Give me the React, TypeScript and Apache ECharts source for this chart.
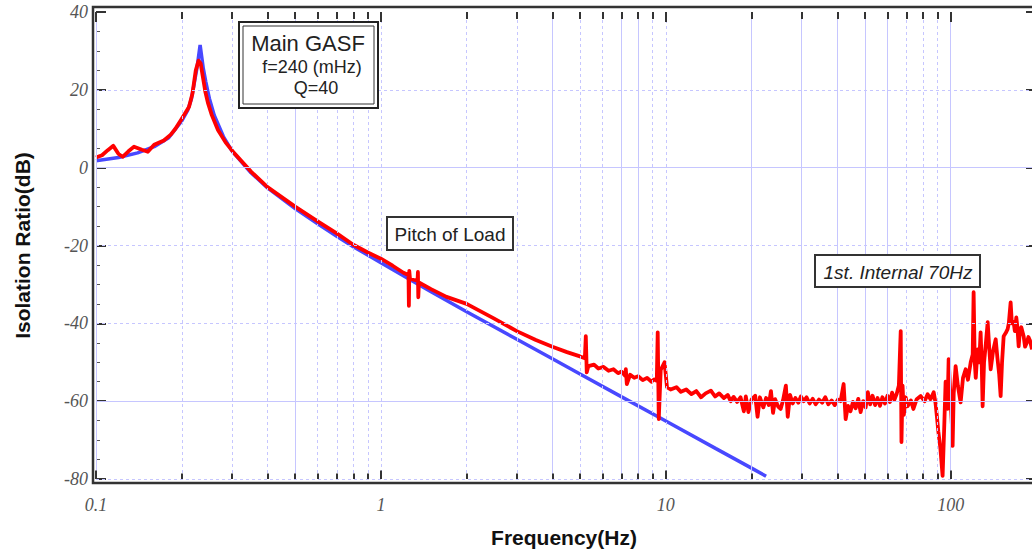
import React, { useEffect, useRef } from "react";
import * as echarts from "echarts";

// Theoretical transfer function (blue)
const blueFreq = [0.1, 0.12, 0.14, 0.16, 0.18, 0.2, 0.21, 0.216, 0.221, 0.226, 0.229, 0.232, 0.235, 0.238, 0.243, 0.25, 0.26, 0.28, 0.3, 0.35, 0.4, 0.5, 0.6, 0.7, 0.8, 1, 1.5, 2, 3, 4, 5, 7, 10, 15, 20, 22.5];
const blueDb = [1.8, 2.6, 3.8, 5.4, 7.7, 12.0, 14.8, 17.5, 21.5, 25.5, 28.5, 31.5, 28.5, 25.5, 22.0, 17.8, 13.5, 8.0, 4.3, -1.3, -5.2, -10.5, -14.4, -17.6, -20.3, -24.4, -31.9, -37.0, -44.1, -49.1, -53.0, -58.9, -65.1, -72.2, -77.2, -79.3];

// Measured (red) [Hz, dB]
const redLow: [number, number][] = [
  [0.1, 2.6], [0.105, 3.2], [0.11, 4.5], [0.115, 5.6], [0.12, 3.5], [0.124, 2.8], [0.13, 4.2], [0.136, 5.4], [0.145, 4.6], [0.152, 4.1], [0.16, 5.9], [0.173, 7.0], [0.183, 8.5], [0.19, 10.0], [0.199, 12.3], [0.212, 15.6], [0.218, 19.0], [0.224, 25.0], [0.229, 27.5], [0.233, 26.8], [0.237, 23.5], [0.242, 19.5], [0.247, 16.7], [0.255, 13.5], [0.268, 9.7], [0.285, 6.5], [0.305, 3.8], [0.35, -1.0], [0.4, -5.0], [0.5, -10.0], [0.6, -13.8], [0.7, -16.9], [0.8, -19.8], [0.9, -21.8], [1.0, -23.4],
];
const redMid: [number, number][] = [
  [1.1, -25.2], [1.2, -27.0], [1.25, -27.6], [1.254, -35.5], [1.258, -26.5], [1.265, -28.5], [1.3, -28.8], [1.345, -29.0], [1.349, -26.8], [1.353, -33.3], [1.36, -29.5], [1.5, -31.2], [1.7, -33.2], [2.0, -35.0], [2.5, -38.8], [3.0, -42.0], [3.5, -44.3], [4.0, -46.0], [4.5, -47.4], [5.0, -48.5], [5.2, -49.0], [5.24, -43.3], [5.28, -52.6], [5.35, -51.0], [5.6, -50.6], [5.8, -51.6], [6.05, -51.2], [6.3, -52.2], [6.55, -51.8], [6.8, -52.8], [7.0, -52.4], [7.2, -53.5], [7.24, -51.8], [7.3, -55.6], [7.5, -53.2], [7.75, -54.0], [8.0, -53.6], [8.3, -54.6], [8.6, -54.0], [8.9, -55.0], [9.1, -54.4], [9.3, -54.8], [9.37, -42.3], [9.45, -64.6], [9.6, -52.0], [9.9, -50.0], [10.1, -56.4],
];
const redHigh: [number, number][] = [
  [10.4, -57.0], [10.9, -56.4], [11.3, -57.6], [11.8, -57.0], [12.3, -58.2], [12.8, -57.4], [13.3, -59.0], [13.8, -58.0], [14.4, -57.3], [14.9, -58.8], [15.4, -58.0], [16.0, -59.2], [16.5, -58.4], [16.9, -60.0], [17.3, -58.9], [17.8, -60.2], [18.3, -59.0], [18.8, -62.6], [19.1, -58.8], [19.5, -62.8], [20.0, -59.6], [20.6, -58.6], [21.0, -64.0], [21.4, -59.0], [22.0, -61.6], [22.5, -59.2], [23.0, -61.0], [23.4, -57.4], [23.8, -63.0], [24.2, -59.5], [24.8, -61.4], [25.3, -62.0], [25.8, -59.8], [26.4, -56.0], [26.8, -64.0], [27.3, -58.4], [27.9, -60.6], [28.5, -59.2], [29.2, -60.4], [29.8, -58.8], [30.5, -60.0], [31.2, -59.0], [32, -60.6], [32.8, -59.4], [33.6, -60.8], [34.5, -59.6], [35.4, -60.4], [36.3, -59.0], [37.2, -60.8], [38.2, -59.8], [39.2, -61.0], [40.2, -59.6], [41.1, -60.0], [42.1, -55.6], [42.8, -64.6], [43.6, -61.2], [44.5, -62.6], [45.4, -60.2], [46.4, -61.8], [47.4, -59.4], [48.3, -62.8], [49.3, -60.0], [50.3, -61.6], [51.2, -57.7], [52.2, -60.8], [53.2, -58.6], [54.3, -61.0], [55.4, -59.2], [56.5, -61.2], [57.6, -59.0], [58.8, -60.6], [60, -58.6], [61.2, -60.2], [62.3, -57.8], [63.5, -59.6], [64.6, -58.2], [65.8, -56.0], [66.5, -46.0], [66.8, -42.0], [67.2, -70.5], [67.8, -56.0], [68.5, -63.5], [69.5, -59.0], [70.6, -61.3], [72.5, -59.8], [74, -62.0], [76, -59.5], [78.5, -58.7], [81, -60.0], [83, -58.2], [85, -59.5], [87.2, -57.7], [88.5, -60.5], [89.5, -64], [90.5, -67.7], [92, -72], [93.7, -79.2], [95, -66], [96, -55.0], [97.5, -62], [98.4, -49.2], [100, -60.0], [101, -66], [101.6, -71.5], [102.5, -58], [104.1, -51.0], [106, -56.0], [108.4, -60.3], [110.5, -54], [112.9, -51.8], [115, -54.5], [117.6, -50.0], [119.5, -48], [120.4, -32.0], [121.5, -50], [122.5, -54], [124.3, -46.7], [126, -50], [127.4, -42.3], [128.5, -50], [129.5, -61.3], [131, -50], [133, -45], [134.9, -39.7], [136.5, -46], [138.2, -51.8], [141, -47], [143.9, -44.1], [146, -49.0], [148, -53], [149.8, -58.7], [151.5, -50], [153.5, -43.3], [156, -42.5], [158.5, -41.5], [160, -40], [162.4, -34.6], [164, -40], [166.4, -39.7], [168, -42], [170, -38.5], [171.5, -41], [173.3, -45.9], [175, -42], [177, -41.0], [180.4, -43.3], [182.5, -46], [185, -45.0], [187.5, -43.5], [190, -44.5], [193, -46.7],
];

// Axis values
const xMin = 0.1;
const xMax = 193;
const yMin = -80;
const yMax = 40;
const yStep = 20;
const xTickFreqs = [0.1, 0.2, 0.3, 0.4, 0.5, 0.6, 0.7, 0.8, 0.9, 1, 2, 3, 4, 5, 6, 7, 8, 9, 10, 20, 30, 40, 50, 60, 70, 80, 90, 100];
const xDecades = [0.1, 1, 10, 100];
const xGridSolid = [0.1, 0.5, 4, 7, 8, 20, 30, 40, 50, 60, 100];
const xGridDashed = [0.2, 0.3, 0.4, 0.6, 0.7, 0.8, 0.9, 1, 2, 3, 5, 6, 9, 10, 70, 80, 90];
const yGridSolid = [0, -60];
const yGridDashed = [20, -20, -40, -80];

const gridColor = "#c6c6ff";
const labelFont = { fontFamily: "Liberation Serif", fontStyle: "italic" as const, fontSize: 18, color: "#555" };
const nameFont = { fontFamily: "Liberation Sans", fontWeight: "bold" as const, fontSize: 21, color: "#111" };

export default function App() {
  const ref = useRef<HTMLDivElement>(null);
  useEffect(() => {
    const chart = echarts.init(ref.current!, null, { renderer: "svg" });
    const blueData = blueFreq.map((f, i) => [f, blueDb[i]]);
    const redData = [...redLow, ...redMid, ...redHigh];
    const tickLine = (v: number, y0: number, y1: number) => [{ coord: [v, y0] }, { coord: [v, y1] }];
    const isDecade = (v: number) => xDecades.indexOf(v) >= 0;
    const option: any = {
      animation: false,
      grid: { left: 96, right: 0, top: 12, bottom: 73 },
      xAxis: [
        {
          type: "log",
          logBase: 10,
          min: xMin,
          max: xMax,
          axisLine: { show: false },
          axisTick: { show: false },
          splitLine: { show: false },
          minorTick: { show: false },
          axisLabel: {
            ...labelFont,
            margin: 17,
            showMaxLabel: false,
            formatter: (v: number) => (v < 1 ? v.toFixed(1) : String(Math.round(v))),
          },
          name: "Frequency(Hz)",
          nameLocation: "middle",
          nameGap: 48,
          nameTextStyle: nameFont,
        },
      ],
      yAxis: [
        {
          type: "value",
          min: yMin,
          max: yMax,
          interval: yStep,
          axisLine: { show: false },
          axisTick: { show: true, inside: true, length: 10, lineStyle: { color: "#333", width: 2 } },
          minorTick: { show: true, splitNumber: 4, length: 4, lineStyle: { color: "#555", width: 1 } },
          splitLine: { show: false },
          axisLabel: { ...labelFont, margin: 8 },
          name: "Isolation Ratio(dB)",
          nameLocation: "middle",
          nameGap: 63,
          nameTextStyle: nameFont,
        },
        {
          type: "value",
          position: "right",
          min: yMin,
          max: yMax,
          interval: yStep,
          axisLine: { show: false },
          axisTick: { show: true, inside: true, length: 6, lineStyle: { color: "#333", width: 2 } },
          axisLabel: { show: false },
          splitLine: { show: false },
        },
      ],
      series: [
        {
          type: "line",
          name: "grid",
          z: 1,
          data: [],
          silent: true,
          markLine: {
            silent: true,
            symbol: ["none", "none"],
            label: { show: false },
            emphasis: { disabled: true },
            animation: false,
            data: [
              ...xGridSolid.map((v) => ({ xAxis: v, lineStyle: { color: gridColor, type: "solid", width: 1 } })),
              ...xGridDashed.map((v) => ({ xAxis: v, lineStyle: { color: gridColor, type: [3, 3], width: 1 } })),
              ...yGridSolid.map((v) => ({ yAxis: v, lineStyle: { color: gridColor, type: "solid", width: 1 } })),
              ...yGridDashed.map((v) => ({ yAxis: v, lineStyle: { color: gridColor, type: [3, 3], width: 1 } })),
            ],
          },
        },
        {
          type: "line",
          name: "Model",
          z: 3,
          data: blueData,
          showSymbol: false,
          lineStyle: { color: "#4848ff", width: 3.5 },
          silent: true,
        },
        {
          type: "line",
          name: "Measured",
          z: 4,
          data: redData,
          showSymbol: false,
          lineStyle: { color: "#ff0000", width: 3.8, join: "round" },
          silent: true,
        },
        {
          type: "line",
          name: "ticks",
          z: 6,
          data: [],
          silent: true,
          markLine: {
            silent: true,
            symbol: ["none", "none"],
            label: { show: false },
            emphasis: { disabled: true },
            animation: false,
            lineStyle: { color: "#333", type: "solid", width: 2 },
            data: [
              ...xTickFreqs.map((v) => tickLine(v, yMin, yMin + (isDecade(v) ? 2.2 : 1.4))),
              ...xTickFreqs.map((v) => tickLine(v, yMax, yMax - (isDecade(v) ? 2.6 : 1.8))),
            ],
          },
        },
      ],
      graphic: [
        {
          type: "rect",
          z: 10,
          shape: { x: 93, y: 7, width: 950, height: 476 },
          style: { fill: "none", stroke: "#333", lineWidth: 2.5 },
          silent: true,
        },
        { type: "rect", z: 20, shape: { x: 239, y: 22, width: 139, height: 86 }, style: { fill: "#fff", stroke: "#222", lineWidth: 2 } },
        { type: "rect", z: 21, shape: { x: 243, y: 26, width: 131, height: 78 }, style: { fill: "#fff", stroke: "#333", lineWidth: 1 } },
        { type: "text", z: 22, style: { text: "Main GASF", x: 308, y: 43, align: "center", verticalAlign: "middle", font: "22px 'Liberation Sans'", fill: "#222" } },
        { type: "text", z: 22, style: { text: "f=240 (mHz)", x: 312, y: 67, align: "center", verticalAlign: "middle", font: "18px 'Liberation Sans'", fill: "#222" } },
        { type: "text", z: 22, style: { text: "Q=40", x: 316, y: 88, align: "center", verticalAlign: "middle", font: "18px 'Liberation Sans'", fill: "#222" } },
        { type: "rect", z: 20, shape: { x: 387, y: 217, width: 126, height: 33 }, style: { fill: "#fff", stroke: "#333", lineWidth: 2 } },
        { type: "text", z: 22, style: { text: "Pitch of Load", x: 450, y: 234, align: "center", verticalAlign: "middle", font: "19px 'Liberation Sans'", fill: "#222" } },
        { type: "rect", z: 20, shape: { x: 815, y: 255, width: 165, height: 32 }, style: { fill: "#fff", stroke: "#333", lineWidth: 2 } },
        { type: "text", z: 22, style: { text: "1st. Internal 70Hz", x: 898, y: 272, align: "center", verticalAlign: "middle", font: "italic 19px 'Liberation Sans'", fill: "#222" } },
      ],
    };
    chart.setOption(option);
    return () => chart.dispose();
  }, []);
  return (
    <div
      ref={ref}
      style={{ position: "fixed", left: 0, top: 0, width: 1032, height: 553, background: "#fff" }}
    />
  );
}
